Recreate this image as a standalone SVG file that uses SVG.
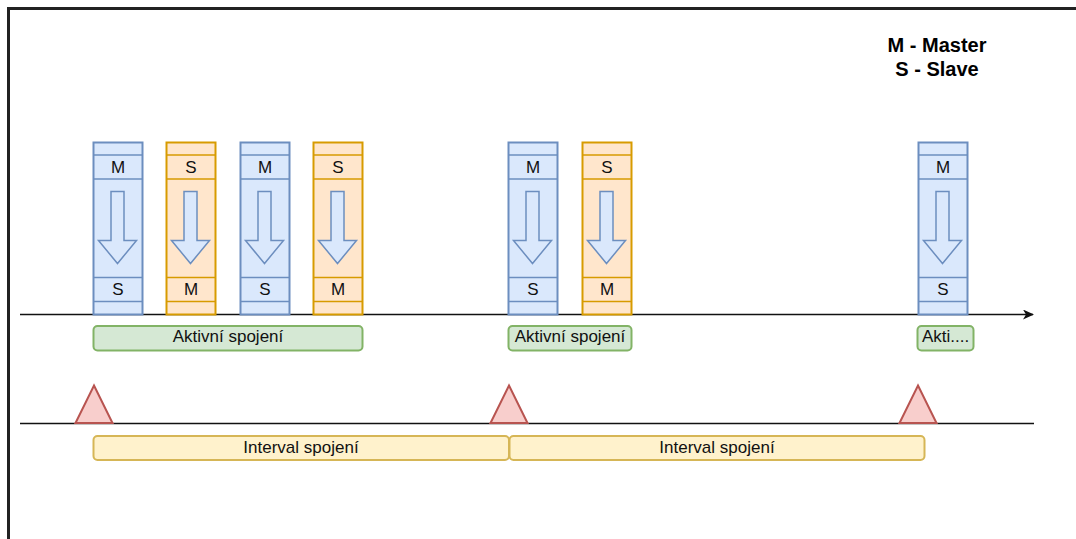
<svg xmlns="http://www.w3.org/2000/svg" xmlns:xlink="http://www.w3.org/1999/xlink" width="1076" height="539" viewBox="0 0 1076 539">
  <style>
    .txt { font-family: "Liberation Sans", Arial, sans-serif; font-size: 17px; fill: #111; text-anchor: middle; }
    .legend { font-family: "Liberation Sans", Arial, sans-serif; font-size: 20px; font-weight: bold; fill: #000; text-anchor: middle; }
    .blue { fill: #dae8fc; stroke: #6c8ebf; stroke-width: 2; }
    .orange { fill: #ffe6cc; stroke: #d79b00; stroke-width: 2; }
    .divb { stroke: #6c8ebf; stroke-width: 1.5; fill: none; }
    .divo { stroke: #d79b00; stroke-width: 1.5; fill: none; }
    .flow { fill: #dae8fc; stroke: #6c8ebf; stroke-width: 1.5; stroke-linejoin: miter; }
    .active { fill: #d5e8d4; stroke: #82b366; stroke-width: 2; }
    .interval { fill: #fff2cc; stroke: #d6b656; stroke-width: 2; }
    .mark { fill: #f8cecc; stroke: #b85450; stroke-width: 2; stroke-linejoin: miter; }
    .axis { stroke: #111; stroke-width: 1.5; fill: none; }
  </style>
  <defs>
    <marker id="arrowhead" markerWidth="12" markerHeight="12" refX="10" refY="5" orient="auto" markerUnits="userSpaceOnUse">
      <path d="M0,0 L11,5 L0,10 L3,5 Z" fill="#111"/>
    </marker>
    <!-- downward block arrow inside each slot -->
    <path id="downArrow" d="M18,49.5 H31 V98.5 H43.5 L24.5,121.5 L5.5,98.5 H18 Z"/>
  </defs>

  <rect width="1076" height="539" fill="#ffffff"/>
  <!-- outer frame -->
  <path d="M8.5,539 V8.5 H1076" fill="none" stroke="#222" stroke-width="3"/>

  <!-- legend -->
  <g id="legend">
    <text class="legend" x="937" y="51.5">M - Master</text>
    <text class="legend" x="937" y="75.5">S - Slave</text>
  </g>

  <!-- connectors / axes -->
  <g id="connectors">
    <line class="axis" x1="20" y1="314.5" x2="1033" y2="314.5" marker-end="url(#arrowhead)"/>
    <line class="axis" x1="20" y1="423.5" x2="1034" y2="423.5"/>
  </g>

  <!-- slot 1: M -> S -->
  <g id="slot1" transform="translate(93,142)">
    <rect class="blue" x="0.5" y="0.5" width="49" height="172"/>
    <path class="divb" d="M0.5,13 H49.5 M0.5,37 H49.5 M0.5,135.5 H49.5 M0.5,159.5 H49.5"/>
    <use href="#downArrow" class="flow"/>
    <text class="txt" x="25" y="30.5">M</text>
    <text class="txt" x="25" y="153">S</text>
  </g>
  <!-- slot 2: S -> M -->
  <g id="slot2" transform="translate(166,142)">
    <rect class="orange" x="0.5" y="0.5" width="49" height="172"/>
    <path class="divo" d="M0.5,13 H49.5 M0.5,37 H49.5 M0.5,135.5 H49.5 M0.5,159.5 H49.5"/>
    <use href="#downArrow" class="flow"/>
    <text class="txt" x="25" y="30.5">S</text>
    <text class="txt" x="25" y="153">M</text>
  </g>
  <!-- slot 3: M -> S -->
  <g id="slot3" transform="translate(240,142)">
    <rect class="blue" x="0.5" y="0.5" width="49" height="172"/>
    <path class="divb" d="M0.5,13 H49.5 M0.5,37 H49.5 M0.5,135.5 H49.5 M0.5,159.5 H49.5"/>
    <use href="#downArrow" class="flow"/>
    <text class="txt" x="25" y="30.5">M</text>
    <text class="txt" x="25" y="153">S</text>
  </g>
  <!-- slot 4: S -> M -->
  <g id="slot4" transform="translate(313,142)">
    <rect class="orange" x="0.5" y="0.5" width="49" height="172"/>
    <path class="divo" d="M0.5,13 H49.5 M0.5,37 H49.5 M0.5,135.5 H49.5 M0.5,159.5 H49.5"/>
    <use href="#downArrow" class="flow"/>
    <text class="txt" x="25" y="30.5">S</text>
    <text class="txt" x="25" y="153">M</text>
  </g>
  <!-- slot 5: M -> S -->
  <g id="slot5" transform="translate(508,142)">
    <rect class="blue" x="0.5" y="0.5" width="49" height="172"/>
    <path class="divb" d="M0.5,13 H49.5 M0.5,37 H49.5 M0.5,135.5 H49.5 M0.5,159.5 H49.5"/>
    <use href="#downArrow" class="flow"/>
    <text class="txt" x="25" y="30.5">M</text>
    <text class="txt" x="25" y="153">S</text>
  </g>
  <!-- slot 6: S -> M -->
  <g id="slot6" transform="translate(582,142)">
    <rect class="orange" x="0.5" y="0.5" width="49" height="172"/>
    <path class="divo" d="M0.5,13 H49.5 M0.5,37 H49.5 M0.5,135.5 H49.5 M0.5,159.5 H49.5"/>
    <use href="#downArrow" class="flow"/>
    <text class="txt" x="25" y="30.5">S</text>
    <text class="txt" x="25" y="153">M</text>
  </g>
  <!-- slot 7: M -> S -->
  <g id="slot7" transform="translate(918,142)">
    <rect class="blue" x="0.5" y="0.5" width="49" height="172"/>
    <path class="divb" d="M0.5,13 H49.5 M0.5,37 H49.5 M0.5,135.5 H49.5 M0.5,159.5 H49.5"/>
    <use href="#downArrow" class="flow"/>
    <text class="txt" x="25" y="30.5">M</text>
    <text class="txt" x="25" y="153">S</text>
  </g>

  <!-- active connection spans -->
  <g id="active1">
    <rect class="active" x="93.5" y="326" width="269" height="24.5" rx="4"/>
    <text class="txt" x="228" y="341.5">Aktivní spojení</text>
  </g>
  <g id="active2">
    <rect class="active" x="508.5" y="326" width="123" height="24.5" rx="4"/>
    <text class="txt" x="570" y="341.5">Aktivní spojení</text>
  </g>
  <g id="active3">
    <rect class="active" x="917.5" y="326" width="56" height="24.5" rx="4"/>
    <text class="txt" x="945.5" y="341.5">Akti....</text>
  </g>

  <!-- connection events -->
  <g id="event1"><path class="mark" d="M94,385.5 L112.5,423 L75.5,423 Z"/></g>
  <g id="event2"><path class="mark" d="M509,385.5 L527.5,423 L490.5,423 Z"/></g>
  <g id="event3"><path class="mark" d="M918,385.5 L936.5,423 L899.5,423 Z"/></g>

  <!-- connection intervals -->
  <g id="interval1">
    <rect class="interval" x="93.5" y="436" width="415.5" height="24" rx="4"/>
    <text class="txt" x="301" y="452.5">Interval spojení</text>
  </g>
  <g id="interval2">
    <rect class="interval" x="509.5" y="436" width="415" height="24" rx="4"/>
    <text class="txt" x="717" y="452.5">Interval spojení</text>
  </g>
</svg>
